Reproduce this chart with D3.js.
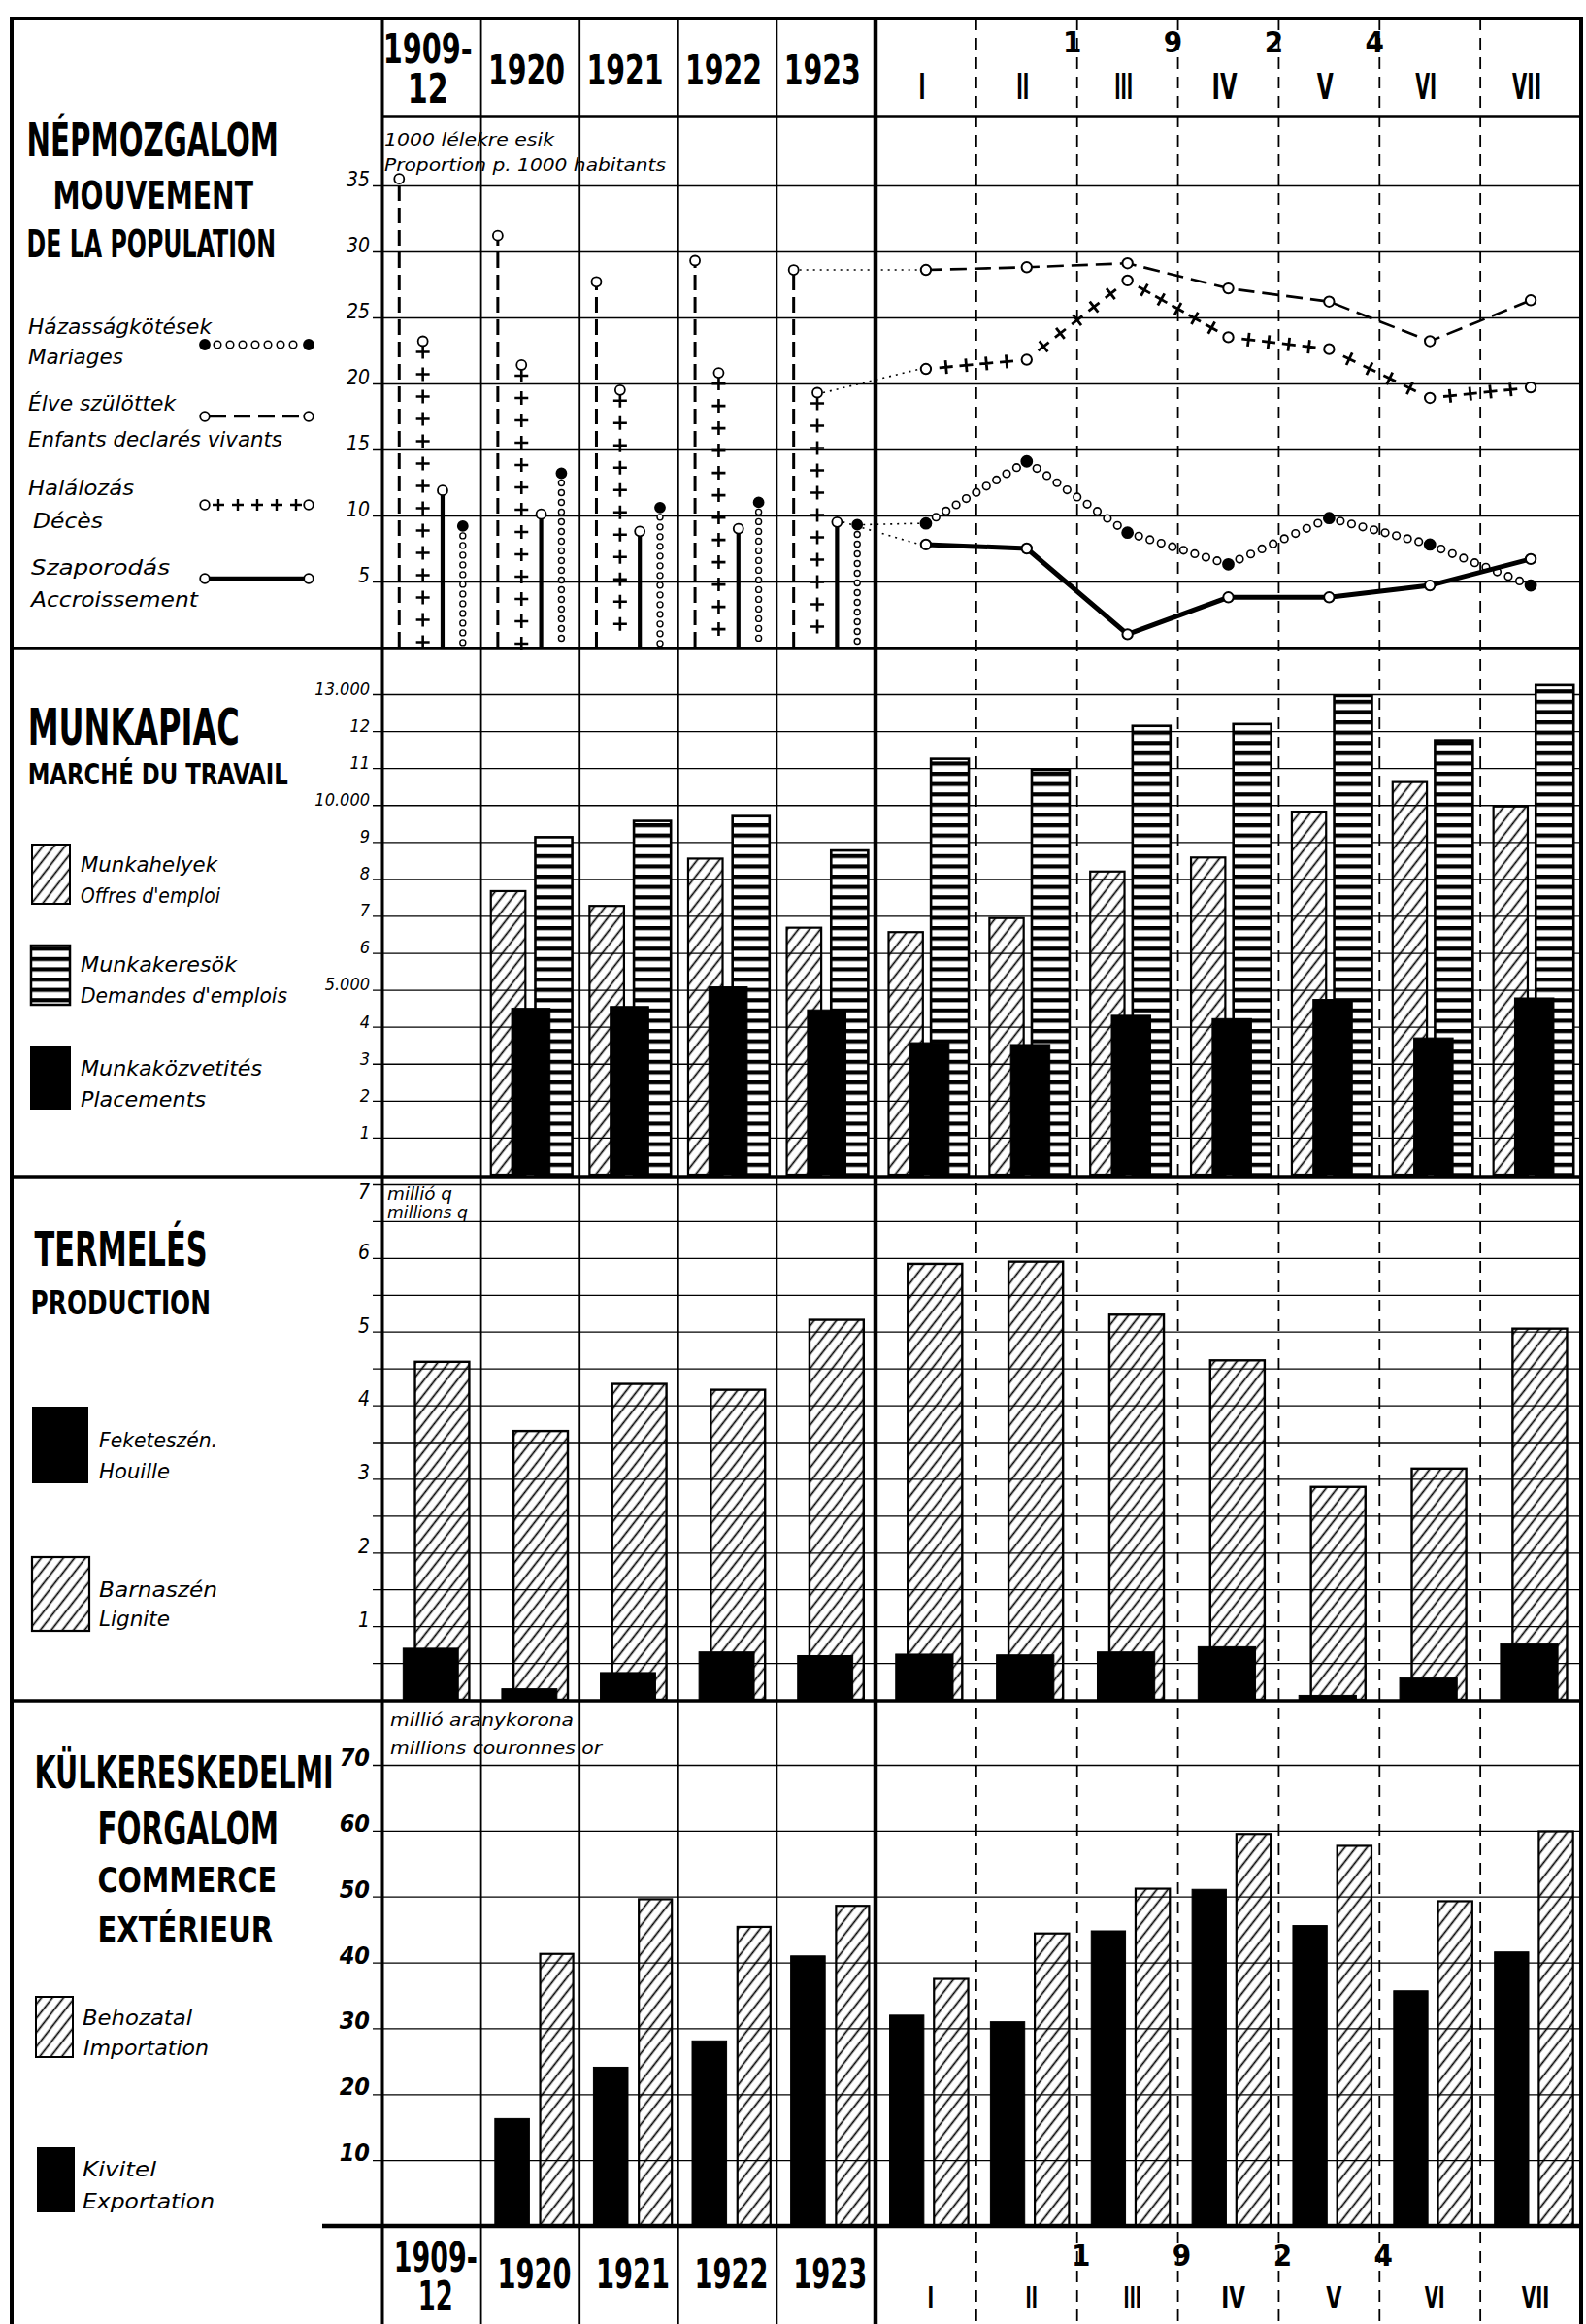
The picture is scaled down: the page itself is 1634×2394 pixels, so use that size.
<!DOCTYPE html>
<html><head><meta charset="utf-8">
<script src="https://cdn.jsdelivr.net/npm/d3@7"></script>
<style>body{margin:0;background:#fff}svg{display:block}</style>
</head><body>
<svg id="c" width="1634" height="2394"></svg>
<script>
// ---------------- DATA ----------------
const years = ["1909-12","1920","1921","1922","1923"];
const yearHeads = [["1909-","12"],["1920"],["1921"],["1922"],["1923"]];
const months = ["I","II","III","IV","V","VI","VII"];
const yearDigits = ["1","9","2","4"];

// Népmozgalom (per 1000 inhabitants)
const popTicks = [5,10,15,20,25,30,35];
const marriagesYear = [9.2,13.2,10.6,11.0,9.3];
const birthsYear    = [35.5,31.2,27.7,29.3,28.6];
const deathsYear    = [23.2,21.4,19.5,20.8,19.3];
const increaseYear  = [11.9,10.1,8.8,9.0,9.5];
const marriagesMonth = [9.4,14.1,8.7,6.3,9.8,7.8,4.7];
const birthsMonth    = [28.6,28.8,29.1,27.2,26.2,23.2,26.3];
const deathsMonth    = [21.1,21.8,27.8,23.5,22.6,18.9,19.7];
const increaseMonth  = [7.8,7.5,1.0,3.8,3.8,4.7,6.7];

// Munkapiac
const laborTicks = [1000,2000,3000,4000,5000,6000,7000,8000,9000,10000,11000,12000,13000];
const laborTickLabels = ["1","2","3","4","5.000","6","7","8","9","10.000","11","12","13.000"];
const offersYear     = [null,7670,7270,8550,6680];
const seekersYear    = [null,9130,9570,9700,8770];
const placementsYear = [null,4500,4550,5080,4460];
const offersMonth     = [6560,6940,8200,8580,9820,10620,9960];
const seekersMonth    = [11250,10950,12140,12190,12950,11750,13240];
const placementsMonth = [3570,3520,4310,4220,4740,3700,4780];

// Termelés (million q)
const prodTicks = [1,2,3,4,5,6,7];
const prodGrid = [0.5,1,1.5,2,2.5,3,3.5,4,4.5,5,5.5,6,6.5,7];
const ligniteYear = [4.59,3.65,4.29,4.21,5.16];
const coalYear    = [0.70,0.15,0.37,0.65,0.60];
const ligniteMonth = [5.92,5.95,5.23,4.61,2.89,3.14,5.04];
const coalMonth    = [0.62,0.61,0.65,0.72,0.06,0.30,0.76];

// Külkereskedelmi forgalom (million gold crowns)
const tradeTicks = [10,20,30,40,50,60,70];
const exportsYear = [null,16.3,24.1,28.1,41.0];
const importsYear = [null,41.3,49.6,45.4,48.6];
const exportsMonth = [32.0,31.0,44.8,51.1,45.6,35.7,41.6];
const importsMonth = [37.5,44.4,51.2,59.5,57.7,49.3,59.9];

// ---------------- SETUP ----------------
const FT = "'Liberation Sans Narrow','DejaVu Sans Condensed','Arial Narrow',sans-serif";
const svg = d3.select("#c");
svg.append("rect").attr("width",1634).attr("height",2394).attr("fill","#fff");
const defs = svg.append("defs");
const hp = defs.append("pattern").attr("id","hatch").attr("patternUnits","userSpaceOnUse")
  .attr("width",9).attr("height",9).attr("patternTransform","rotate(38)");
hp.append("line").attr("x1",4.5).attr("y1",-1).attr("x2",4.5).attr("y2",10).attr("stroke","#000").attr("stroke-width",1.7);
const sp = defs.append("pattern").attr("id","stripes").attr("patternUnits","userSpaceOnUse")
  .attr("width",10).attr("height",10.6);
sp.append("rect").attr("width",10).attr("height",10.6).attr("fill","#fff");
sp.append("rect").attr("width",10).attr("height",4.2).attr("fill","#000");

const X0 = 394, XM = 902, XR = 1629, FL = 12, FTOP = 19, FB = 2394;
const xYear = d3.scaleBand().domain(years).range([X0, XM]);
const xMonth = d3.scaleBand().domain(months).range([XM, XR]);
const bwY = xYear.bandwidth(), bwM = xMonth.bandwidth();
const cY = c => xYear(c) + bwY/2, cM = c => xMonth(c) + bwM/2;

const y1 = d3.scaleLinear().domain([0,35]).range([667,191]);
const y2 = d3.scaleLinear().domain([0,13000]).range([1210,715]);
const y3 = d3.scaleLinear().domain([0,7]).range([1751,1220]);
const y4 = d3.scaleLinear().domain([0,70]).range([2293,1818]);

const gGrid = svg.append("g"), gDiv = svg.append("g"), gMarks = svg.append("g"),
      gFrame = svg.append("g"), gText = svg.append("g");

function line(g,x1,yA,x2,yB,w,dash){
  const l = g.append("line").attr("x1",x1).attr("y1",yA).attr("x2",x2).attr("y2",yB)
    .attr("stroke","#000").attr("stroke-width",w);
  if (dash) l.attr("stroke-dasharray",dash);
  return l;
}
function txt(x,y,s,o={}){
  const t = gText.append("text").attr("x",x).attr("y",y).text(s)
    .attr("font-family",FT).attr("font-size",o.fs||20)
    .attr("font-weight",o.fw||"normal").attr("font-style",o.it?"italic":"normal")
    .attr("text-anchor",o.anchor||"start").attr("fill","#000");
  if (o.len) t.attr("textLength",o.len).attr("lengthAdjust","spacingAndGlyphs");
  return t;
}
function circ(g,x,y,r,filled,sw){
  g.append("circle").attr("cx",x).attr("cy",y).attr("r",r)
   .attr("fill",filled?"#000":"#fff").attr("stroke","#000").attr("stroke-width",sw||1.8);
}
function cross(g,x,y,a,ang,sw){
  g.append("path").attr("d",`M${-a},0H${a}M0,${-a}V${a}`)
   .attr("transform",`translate(${x},${y}) rotate(${ang})`)
   .attr("stroke","#000").attr("stroke-width",sw||2.6).attr("fill","none");
}
function along(pts,spacing,cb){
  for (let i=0;i<pts.length-1;i++){
    const [xa,ya]=pts[i],[xb,yb]=pts[i+1];
    const len=Math.hypot(xb-xa,yb-ya), n=Math.max(1,Math.round(len/spacing));
    const ang=Math.atan2(yb-ya,xb-xa)*180/Math.PI;
    for (let k=1;k<n;k++){ const t=k/n; cb(xa+(xb-xa)*t, ya+(yb-ya)*t, ang); }
  }
}

// ---------------- GRID & AXES ----------------
function grid(ys, vals){
  const g = gGrid.append("g").attr("transform","translate(384,0)")
    .call(d3.axisLeft(ys).tickValues(vals).tickSize(-(XR-384)).tickFormat(""));
  g.select(".domain").remove();
  g.selectAll(".tick text").remove();
  g.selectAll(".tick line").attr("stroke","#000").attr("stroke-width",1.3);
}
function labels(ys, vals, fmt, fs, bold, topShift){
  const g = gText.append("g").attr("transform","translate(381,0)")
    .call(d3.axisLeft(ys).tickValues(vals).tickSize(0).tickPadding(0).tickFormat(fmt));
  g.select(".domain").remove();
  g.selectAll(".tick line").remove();
  g.selectAll(".tick text").attr("font-family",FT).attr("font-style","italic")
    .attr("font-size",fs).attr("font-weight",bold?"bold":"normal").attr("dy","0.02em").attr("fill","#000");
  if (topShift) g.selectAll(".tick text").filter(d=>d===vals[vals.length-1]).attr("dy",topShift);
}
grid(y1, popTicks);           labels(y1, popTicks, d=>String(d), 21, false);
grid(y2, laborTicks);         labels(y2, laborTicks, (d,i)=>laborTickLabels[i], 18, false);
grid(y3, prodGrid);           labels(y3, prodTicks, d=>String(d), 21, false, "0.7em");
grid(y4, tradeTicks);         labels(y4, tradeTicks, d=>String(d), 25, true);

// ---------------- DIVIDERS ----------------
years.slice(1).forEach(c => line(gDiv, xYear(c), FTOP, xYear(c), FB, 1.8));
months.slice(1).forEach(c => line(gDiv, xMonth(c), FTOP, xMonth(c), FB, 1.8, "12,8"));

// ---------------- SECTION 1: NÉPMOZGALOM ----------------
const fr = {birth:0.17, death:0.41, inc:0.61, mar:0.815};
years.forEach((c,i)=>{
  const x0 = xYear(c);
  const xb = x0 + fr.birth*bwY, xd = x0 + fr.death*bwY, xi = x0 + fr.inc*bwY, xm = x0 + fr.mar*bwY;
  line(gMarks, xb, y1(0), xb, y1(birthsYear[i])+5, 3, "16,7");
  circ(gMarks, xb, y1(birthsYear[i]), 5, false);
  for (let yy=y1(deathsYear[i])+11; yy<y1(0)-4; yy+=23) cross(gMarks, xd, yy, 7, 0, 2.6);
  circ(gMarks, xd, y1(deathsYear[i]), 5, false);
  line(gMarks, xi, y1(0), xi, y1(increaseYear[i])+4, 4.2);
  circ(gMarks, xi, y1(increaseYear[i]), 5, false);
  for (let yy=y1(marriagesYear[i])+10; yy<y1(0)-3; yy+=10) circ(gMarks, xm, yy, 3, false, 1.4);
  circ(gMarks, xm, y1(marriagesYear[i]), 5, true);
});
const last = years.length-1, c23 = xYear(years[last]);
[[fr.birth,birthsYear,birthsMonth],[fr.death,deathsYear,deathsMonth],[fr.inc,increaseYear,increaseMonth],[fr.mar,marriagesYear,marriagesMonth]]
 .forEach(([f,a,m])=>{
   line(gMarks, c23+f*bwY+6, y1(a[last]), cM(months[0])-6, y1(m[0]), 1.6, "2,5");
 });
const pB = months.map((m,i)=>[cM(m), y1(birthsMonth[i])]);
const pD = months.map((m,i)=>[cM(m), y1(deathsMonth[i])]);
const pMa = months.map((m,i)=>[cM(m), y1(marriagesMonth[i])]);
const pI = months.map((m,i)=>[cM(m), y1(increaseMonth[i])]);
gMarks.append("path").attr("d",d3.line()(pB)).attr("fill","none").attr("stroke","#000")
  .attr("stroke-width",2.6).attr("stroke-dasharray","17,8");
pB.forEach(p=>circ(gMarks,p[0],p[1],5.2,false,2));
along(pD, 21, (x,y,a)=>cross(gMarks,x,y,7,a,2.8));
pD.forEach(p=>circ(gMarks,p[0],p[1],5.2,false,2));
along(pMa, 12.5, (x,y)=>circ(gMarks,x,y,3.8,false,1.6));
pMa.forEach(p=>circ(gMarks,p[0],p[1],5.5,true));
gMarks.append("path").attr("d",d3.line()(pI)).attr("fill","none").attr("stroke","#000").attr("stroke-width",5);
pI.forEach(p=>circ(gMarks,p[0],p[1],5.2,false,2));

// ---------------- BAR HELPER ----------------
function drawBars(vals, cats, xs, ys, f0, f1, fill, sw){
  const bw = xs.bandwidth();
  gMarks.append("g").selectAll("rect")
    .data(cats.map((c,i)=>({c, v:vals[i]})).filter(d=>d.v!=null)).join("rect")
    .attr("x", d=>xs(d.c)+f0*bw).attr("width",(f1-f0)*bw)
    .attr("y", d=>ys(d.v)).attr("height", d=>ys(0)-ys(d.v))
    .attr("fill", fill).attr("stroke","#000").attr("stroke-width", sw);
}
drawBars(offersYear, years, xYear, y2, 0.10, 0.45, "url(#hatch)", 2.2);
drawBars(offersMonth, months, xMonth, y2, 0.13, 0.47, "url(#hatch)", 2.2);
drawBars(seekersYear, years, xYear, y2, 0.55, 0.925, "url(#stripes)", 2.6);
drawBars(seekersMonth, months, xMonth, y2, 0.55, 0.925, "url(#stripes)", 2.6);
drawBars(placementsYear, years, xYear, y2, 0.31, 0.70, "#000", 1);
drawBars(placementsMonth, months, xMonth, y2, 0.34, 0.73, "#000", 1);
drawBars(ligniteYear, years, xYear, y3, 0.33, 0.88, "url(#hatch)", 2.4);
drawBars(ligniteMonth, months, xMonth, y3, 0.32, 0.86, "url(#hatch)", 2.4);
drawBars(coalYear, years, xYear, y3, 0.21, 0.77, "#000", 1);
drawBars(coalMonth, months, xMonth, y3, 0.20, 0.77, "#000", 1);
drawBars(exportsYear, years, xYear, y4, 0.14, 0.49, "#000", 1);
drawBars(exportsMonth, months, xMonth, y4, 0.14, 0.48, "#000", 1);
drawBars(importsYear, years, xYear, y4, 0.60, 0.935, "url(#hatch)", 2.2);
drawBars(importsMonth, months, xMonth, y4, 0.58, 0.92, "url(#hatch)", 2.2);

// ---------------- FRAME ----------------
line(gFrame, FL, FTOP, FL, FB, 4);
line(gFrame, FL-2, FTOP, XR+2, FTOP, 4);
line(gFrame, XR, FTOP, XR, FB, 4);
line(gFrame, X0, FTOP, X0, FB, 3);
line(gFrame, XM, FTOP, XM, FB, 4.5);
line(gFrame, X0, 120, XR, 120, 3.5);
[668,1212,1752].forEach(y=>line(gFrame, FL, y, XR, y, 3.5));
line(gFrame, 332, y4(0), XR, y4(0), 4.5);

// ---------------- HEADERS ----------------
function headers(top){
  years.forEach((c,i)=>{
    const cx = cY(c) + (top?-4:4);
    const h = yearHeads[i];
    if (h.length===2){
      txt(cx, top?65:2340, h[0], {fs:42, fw:"bold", anchor:"middle", len:top?92:86});
      txt(cx, top?106:2380, h[1], {fs:42, fw:"bold", anchor:"middle", len:top?42:36});
    } else {
      txt(cx, top?87:2357, h[0], {fs:42, fw:"bold", anchor:"middle", len:top?79:76});
    }
  });
  yearDigits.forEach((d,i)=>{
    const x = xMonth(months[i+2]) + (top?-5:4);
    txt(x, top?54:2334, d, {fs:31, fw:"bold", anchor:"middle"});
  });
  const rw = {I:7,II:13,III:19,IV:26,V:17,VI:22,VII:30};
  months.forEach(m=>{
    txt(cM(m)+(top?-4:5), top?102:2378, m, {fs:top?38:32, fw:"bold", anchor:"middle", len:rw[m]*(top?1:0.95)});
  });
}
headers(true); headers(false);

// ---------------- LEFT LABELS ----------------
const T = (x,y,s,fs,len)=>txt(x,y,s,{fs, fw:"bold", len});
const I = (x,y,s,fs,len)=>txt(x,y,s,{fs, it:true, len});
T(27.5,161,"NÉPMOZGALOM",48,259.5);
T(54.5,214.6,"MOUVEMENT",39,206.5);
T(27.5,264.5,"DE LA POPULATION",39,256.5);
I(29,344,"Házasságkötések",21,189);
I(29,375,"Mariages",21,98);
I(29,423,"Élve szülöttek",21,152);
I(29,459.7,"Enfants declarés vivants",21,262);
I(29,509.5,"Halálozás",21,109);
I(34,544,"Décès",21,72);
I(32,592,"Szaporodás",21,143);
I(32,624.5,"Accroissement",21,172);
I(396,149.6,"1000 lélekre esik",18,175);
I(396,175.6,"Proportion p. 1000 habitants",18,290);
(function(){
  const g = gText.append("g");
  const xa=211, xb=318;
  const lm=355; circ(g,xa,lm,5,true); d3.range(xa+13,xb-6,13).forEach(x=>circ(g,x,lm,3.8,false,1.5)); circ(g,xb,lm,5,true);
  const lb=429; line(g,xa+5,lb,xb-5,lb,2.6,"17,8"); circ(g,xa,lb,4.8,false); circ(g,xb,lb,4.8,false);
  const ld=520; circ(g,xa,ld,4.8,false); d3.range(xa+14,xb-8,20).forEach(x=>cross(g,x,ld,6,0,2.4)); circ(g,xb,ld,4.8,false);
  const li=596; line(g,xa+4,li,xb-4,li,4.5); circ(g,xa,li,4.8,false); circ(g,xb,li,4.8,false);
})();
T(28.7,767,"MUNKAPIAC",51,218);
T(28.7,808,"MARCHÉ DU TRAVAIL",31,268);
gText.append("rect").attr("x",33).attr("y",870).attr("width",39).attr("height",61).attr("fill","url(#hatch)").attr("stroke","#000").attr("stroke-width",2);
gText.append("rect").attr("x",32).attr("y",974).attr("width",40).attr("height",61).attr("fill","url(#stripes)").attr("stroke","#000").attr("stroke-width",2.5);
gText.append("rect").attr("x",32).attr("y",1078).attr("width",40).attr("height",64).attr("fill","#000").attr("stroke","#000").attr("stroke-width",2);
I(83,897.5,"Munkahelyek",22,141);
I(83,929.6,"Offres d'emploi",22,144);
I(83,1001,"Munkakeresök",22,161);
I(83,1033,"Demandes d'emplois",22,213);
I(83,1108,"Munkaközvetités",22,187);
I(83,1140,"Placements",22,129);
T(35.6,1303.6,"TERMELÉS",49,178);
T(31.6,1353.6,"PRODUCTION",34,185.4);
gText.append("rect").attr("x",34).attr("y",1450).attr("width",56).attr("height",77).attr("fill","#000").attr("stroke","#000").attr("stroke-width",2);
gText.append("rect").attr("x",33).attr("y",1604).attr("width",59).attr("height",76).attr("fill","url(#hatch)").attr("stroke","#000").attr("stroke-width",2.2);
I(102,1491,"Feketeszén.",22,122);
I(102,1523,"Houille",22,73);
I(102,1644.6,"Barnaszén",22,122);
I(102,1675,"Lignite",22,73);
I(399,1236,"millió q",17,67);
I(399,1255,"millions q",17,83);
T(35.6,1842,"KÜLKERESKEDELMI",46,308);
T(100.5,1900,"FORGALOM",46,186.5);
T(100.5,1949,"COMMERCE",36,184.5);
T(100.5,2000.4,"EXTÉRIEUR",35,180.5);
gText.append("rect").attr("x",37).attr("y",2057).attr("width",38).attr("height",62).attr("fill","url(#hatch)").attr("stroke","#000").attr("stroke-width",2);
gText.append("rect").attr("x",39).attr("y",2213).attr("width",37).attr("height",65).attr("fill","#000").attr("stroke","#000").attr("stroke-width",2);
I(85,2085.8,"Behozatal",22,113);
I(86,2117,"Importation",22,129);
I(85,2242,"Kivitel",22,76);
I(85,2275,"Exportation",22,136);
I(402,1777.5,"millió aranykorona",18,189);
I(402,1806.7,"millions couronnes or",18,218);
</script>
</body></html>
